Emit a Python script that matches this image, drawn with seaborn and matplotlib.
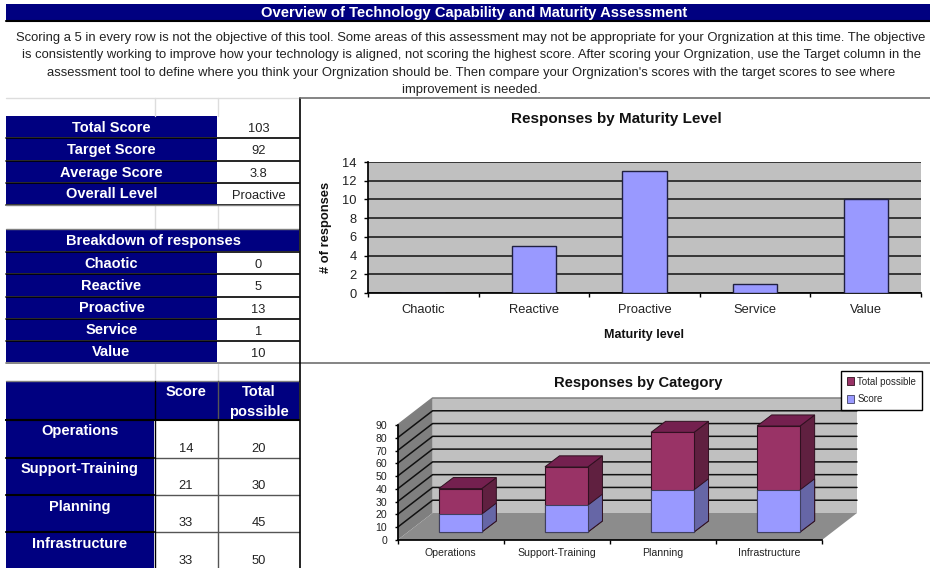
import matplotlib
matplotlib.use("Agg")
import matplotlib.pyplot as plt
from matplotlib.patches import Polygon, Patch, Rectangle
from matplotlib.transforms import Affine2D
import seaborn as sns

W, H = 930, 568
NAVY = "#000080"

intro_lines = [
    "Scoring a 5 in every row is not the objective of this tool. Some areas of this assessment may not be appropriate for your Orgnization at this time. The objective",
    "is consistently working to improve how your technology is aligned, not scoring the highest score. After scoring your Orgnization, use the Target column in the",
    "assessment tool to define where you think your Orgnization should be. Then compare your Orgnization's scores with the target scores to see where",
    "improvement is needed.",
]
summary_labels = ["Total Score", "Target Score", "Average Score", "Overall Level"]
summary_values = ["103", "92", "3.8", "Proactive"]
levels = ["Chaotic", "Reactive", "Proactive", "Service", "Value"]
level_counts = [0, 5, 13, 1, 10]
categories = ["Operations", "Support-Training", "Planning", "Infrastructure"]
score = [14, 21, 33, 33]
total_possible = [20, 30, 45, 50]


def px_axes(fig, left, top, right, bottom):
    return fig.add_axes([left / W, 1 - bottom / H, (right - left) / W, (bottom - top) / H])


def cell(ax, x0, y0, x1, y1, text="", navy=True):
    ax.add_patch(Rectangle((x0, y0), x1 - x0, y1 - y0, fc=NAVY if navy else "white", ec="none"))
    ty = (y0 + y1) / 2 + (1 if navy else 2)
    ax.text((x0 + x1) / 2, ty, text, ha="center", va="center", color="white" if navy else "#222222",
            fontsize=10.5 if navy else 9.3, fontweight="bold" if navy else "normal")


sns.set_theme(style="white")
plt.rcParams["font.family"] = ["Liberation Sans", "DejaVu Sans"]
fig = plt.figure(figsize=(W / 100, H / 100), dpi=100, facecolor="white")

# sheet layer, in pixels
sheet = fig.add_axes([0, 0, 1, 1], zorder=0)
sheet.set_xlim(0, W)
sheet.set_ylim(H, 0)
sheet.axis("off")

sheet.add_patch(Rectangle((6, 4), 924, 16, fc=NAVY, ec="none"))
sheet.plot([6, 930], [21, 21], color="black", lw=1.5)
sheet.text(474, 13.5, "Overview of Technology Capability and Maturity Assessment", color="white",
           fontsize=10.6, fontweight="bold", ha="center", va="center")
for y, line in zip([38, 55, 73, 90], intro_lines):
    sheet.text(471, y, line, fontsize=9.4, color="#222222", ha="center", va="center", clip_on=True)

sheet.plot([6, 300], [98, 98], color="#dddddd", lw=1)
for x in [154.5, 218]:
    sheet.plot([x, x], [98, 116], color="#dddddd", lw=1)
    sheet.plot([x, x], [205, 229], color="#dddddd", lw=1)
    sheet.plot([x, x], [364, 381], color="#dddddd", lw=1)

for (y0, y1), label, value in zip([(116, 137), (138, 160), (161, 182), (183, 204)], summary_labels, summary_values):
    cell(sheet, 6, y0, 217, y1, label)
    cell(sheet, 218, y0, 299, y1 + 1, value, navy=False)
    sheet.plot([6, 299], [y1 + 0.5, y1 + 0.5], color="black", lw=1.2)
sheet.plot([6, 299], [205, 205], color="#808080", lw=1)

sheet.add_patch(Rectangle((6, 229), 293, 22, fc=NAVY, ec="none"))
sheet.text(153, 241, "Breakdown of responses", color="white", fontsize=10.5, fontweight="bold", ha="center", va="center")
sheet.plot([6, 299], [228.5, 228.5], color="#808080", lw=1)
for (y0, y1), label, value in zip([(252, 273), (274, 296), (297, 318), (319, 340), (341, 362)], levels, level_counts):
    cell(sheet, 6, y0, 217, y1, label)
    cell(sheet, 218, y0, 299, y1 + 1, str(value), navy=False)
    sheet.plot([6, 299], [y0 - 0.5, y0 - 0.5], color="black", lw=1.2)
sheet.plot([6, 930], [363, 363], color="#707070", lw=1.2)

sheet.add_patch(Rectangle((6, 381), 293, 38, fc=NAVY, ec="none"))
sheet.plot([6, 299], [380.5, 380.5], color="#808080", lw=1)
sheet.text(186, 392.5, "Score", color="white", fontsize=10.5, fontweight="bold", ha="center", va="center")
sheet.text(259, 392.5, "Total", color="white", fontsize=10.5, fontweight="bold", ha="center", va="center")
sheet.text(259, 412, "possible", color="white", fontsize=10.5, fontweight="bold", ha="center", va="center")
for (y0, y1), name, s, t in zip([(420, 457), (458, 494), (495, 531), (532, 569)], categories, score, total_possible):
    sheet.add_patch(Rectangle((6, y0), 148, y1 - y0, fc=NAVY, ec="none"))
    sheet.text(80, y0 + 11.5, name, color="white", fontsize=10.5, fontweight="bold", ha="center", va="center")
    sheet.text(186, y1 - 8, str(s), color="#222222", fontsize=9.3, ha="center", va="center")
    sheet.text(259, y1 - 8, str(t), color="#222222", fontsize=9.3, ha="center", va="center")
    sheet.plot([6, 154], [y0 - 0.5, y0 - 0.5], color="black", lw=1.5)
    sheet.plot([155, 299], [y1 + 0.5, y1 + 0.5], color="#555555", lw=1)
sheet.plot([154.5, 154.5], [381, 568], color="black", lw=1)
sheet.plot([217.5, 217.5], [381, 568], color="#555555", lw=1)
sheet.plot([6, 299], [419.5, 419.5], color="black", lw=1.5)

sheet.plot([299.5, 299.5], [98, 568], color="black", lw=1.2)
sheet.plot([300, 930], [97.5, 97.5], color="#707070", lw=1.2)

# top chart
ax1 = px_axes(fig, 368, 162, 921, 293)
ax1.set_zorder(2)
sns.barplot(x=levels, y=level_counts, color="#9999ff", saturation=1, width=0.4,
            edgecolor="#202040", linewidth=1, ax=ax1, zorder=3)
ax1.set_facecolor("#c0c0c0")
ax1.set_xlim(-0.5, 4.5)
ax1.set_ylim(0, 14)
ax1.set_yticks(range(0, 15, 2))
ax1.grid(axis="y", color="#111111", lw=1.1)
ax1.set_axisbelow(True)
ax1.set_xticks([i - 0.5 for i in range(6)], minor=True)
ax1.tick_params(axis="x", which="minor", length=3, width=1, color="black", bottom=True)
ax1.tick_params(axis="x", which="major", length=0, labelsize=9.3, pad=8, labelcolor="#222222")
ax1.tick_params(axis="y", length=3, width=1, color="black", left=True, labelsize=9.3, pad=5, labelcolor="#222222")
for side in ["top", "right"]:
    ax1.spines[side].set_visible(False)
for side in ["left", "bottom"]:
    ax1.spines[side].set_color("black")
ax1.set_xlabel("Maturity level", fontsize=9, fontweight="bold", color="#111111", labelpad=9)
ax1.set_ylabel("# of responses", fontsize=9.3, fontweight="bold", color="#111111", labelpad=7.7)
sheet.text(616, 119, "Responses by Maturity Level", fontsize=11, fontweight="bold", color="#111111", ha="center", va="center")

# bottom chart, front plane of the fake 3D box
ax2 = px_axes(fig, 397.6, 425, 822, 540)
ax2.set_zorder(2)
ax2.patch.set_alpha(0)
ax2.set_xlim(-0.5, 3.5)
ax2.set_ylim(0, 90)
depth_x, depth_y = 35 / 106.1, 27 / (115 / 90)
x0, x1 = -0.5, 3.5

ax2.add_patch(Polygon([(x0 + depth_x, depth_y), (x1 + depth_x, depth_y), (x1 + depth_x, 90 + depth_y), (x0 + depth_x, 90 + depth_y)],
                      fc="#c0c0c0", ec="none", clip_on=False, zorder=0))
ax2.add_patch(Polygon([(x0, 0), (x0 + depth_x, depth_y), (x0 + depth_x, 90 + depth_y), (x0, 90)],
                      fc="#7f7f7f", ec="none", clip_on=False, zorder=0))
ax2.add_patch(Polygon([(x0, 0), (x1, 0), (x1 + depth_x, depth_y), (x0 + depth_x, depth_y)],
                      fc="#8c8c8c", ec="none", clip_on=False, zorder=0))
for v in range(10, 100, 10):
    ax2.plot([x0, x0 + depth_x, x1 + depth_x], [v, v + depth_y, v + depth_y],
             color="#111111" if v < 90 else "#808080", lw=1.1, clip_on=False, zorder=1)

stacked = [s + t for s, t in zip(score, total_possible)]
n_before = len(ax2.patches)
sns.barplot(x=categories, y=stacked, color="#993366", saturation=1, width=0.405,
            edgecolor="#301020", linewidth=0.8, ax=ax2, zorder=4)
sns.barplot(x=categories, y=score, color="#9999ff", saturation=1, width=0.405,
            edgecolor="#404060", linewidth=0.8, ax=ax2, zorder=5)
ax2.set_xlim(-0.5, 3.5)
ax2.set_ylim(0, 90)

shift = Affine2D().translate(9.7, 8)
bar_x = 14.5 / 106.1
bar_y = 11 / (115 / 90)
for patch in ax2.patches[n_before:]:
    patch.set_transform(ax2.transData + shift)
    patch.set_clip_on(False)
    px, pw, ph = patch.get_x(), patch.get_width(), patch.get_height()
    is_top = patch.get_facecolor()[1] < 0.5
    side = "#602040" if is_top else "#6666a6"
    ax2.add_patch(Polygon([(px + pw, 0), (px + pw + bar_x, bar_y), (px + pw + bar_x, ph + bar_y), (px + pw, ph)],
                          fc=side, ec="#301020", lw=0.7, transform=ax2.transData + shift, clip_on=False,
                          zorder=3.5 if is_top else 4.5))
    if is_top:
        ax2.add_patch(Polygon([(px, ph), (px + pw, ph), (px + pw + bar_x, ph + bar_y), (px + bar_x, ph + bar_y)],
                              fc="#74204f", ec="#301020", lw=0.7, transform=ax2.transData + shift, clip_on=False,
                              zorder=4.5))

ax2.set_yticks(range(0, 100, 10))
ax2.set_xticks([i - 0.5 for i in range(5)], minor=True)
ax2.tick_params(axis="x", which="minor", length=3, width=1, color="black", bottom=True)
ax2.tick_params(axis="x", which="major", length=0, labelsize=7.6, pad=6, labelcolor="#222222")
ax2.tick_params(axis="y", length=2, width=1, color="black", left=True, labelsize=7.6, pad=5.5, labelcolor="#222222")
for s in ["top", "right"]:
    ax2.spines[s].set_visible(False)
for s in ["left", "bottom"]:
    ax2.spines[s].set_color("black")
sheet.text(638, 383, "Responses by Category", fontsize=10.6, fontweight="bold", color="#111111", ha="center", va="center")

handles = [Patch(fc="#993366", ec="#301020", lw=0.6, label="Total possible"),
           Patch(fc="#9999ff", ec="#404060", lw=0.6, label="Score")]
ax2.legend(handles=handles, loc="upper left", bbox_to_anchor=(840.8 / W, 1 - 370.7 / H), bbox_transform=fig.transFigure,
           frameon=True, fancybox=False, framealpha=1, edgecolor="black", fontsize=7, handlelength=0.8, handleheight=0.8,
           handletextpad=0.3, borderaxespad=0, labelspacing=0.8, borderpad=0.6)

fig.savefig("out.png", dpi=100)
